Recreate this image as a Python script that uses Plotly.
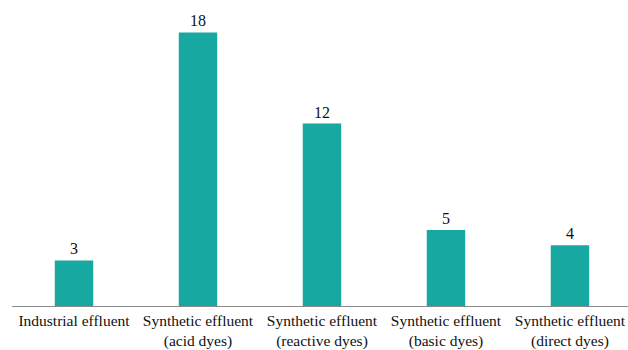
import plotly.graph_objects as go

categories = [
    "Industrial effluent",
    "Synthetic effluent<br>(acid dyes)",
    "Synthetic effluent<br>(reactive dyes)",
    "Synthetic effluent<br>(basic dyes)",
    "Synthetic effluent<br>(direct dyes)",
]
values = [3, 18, 12, 5, 4]

fig = go.Figure(
    go.Bar(
        x=list(range(len(categories))),
        y=values,
        text=[str(v) for v in values],
        textposition="outside",
        cliponaxis=False,
        marker=dict(color="#17a8a1", line=dict(width=0)),
        width=0.31,
        textfont=dict(family="Liberation Serif", size=16, color="#111111"),
    )
)

fig.update_layout(
    width=628,
    height=350,
    margin=dict(l=12, r=0, t=0, b=44),
    paper_bgcolor="white",
    plot_bgcolor="white",
    showlegend=False,
    font=dict(family="Liberation Serif", size=15.5, color="#111111"),
    xaxis=dict(
        tickmode="array",
        tickvals=list(range(len(categories))),
        ticktext=categories,
        tickfont=dict(family="Liberation Serif", size=15.5, color="#111111"),
        range=[-0.5, 4.468],
        showline=True,
        linecolor="#8c8c8c",
        linewidth=1,
        ticks="",
        ticklabelstandoff=0,
        ticklabeloverflow="allow",
        automargin=False,
        showgrid=False,
        zeroline=False,
        tickangle=0,
    ),
    yaxis=dict(
        range=[0, 20.13],
        visible=False,
        showgrid=False,
        zeroline=False,
    ),
)

fig.write_html("out.html")
